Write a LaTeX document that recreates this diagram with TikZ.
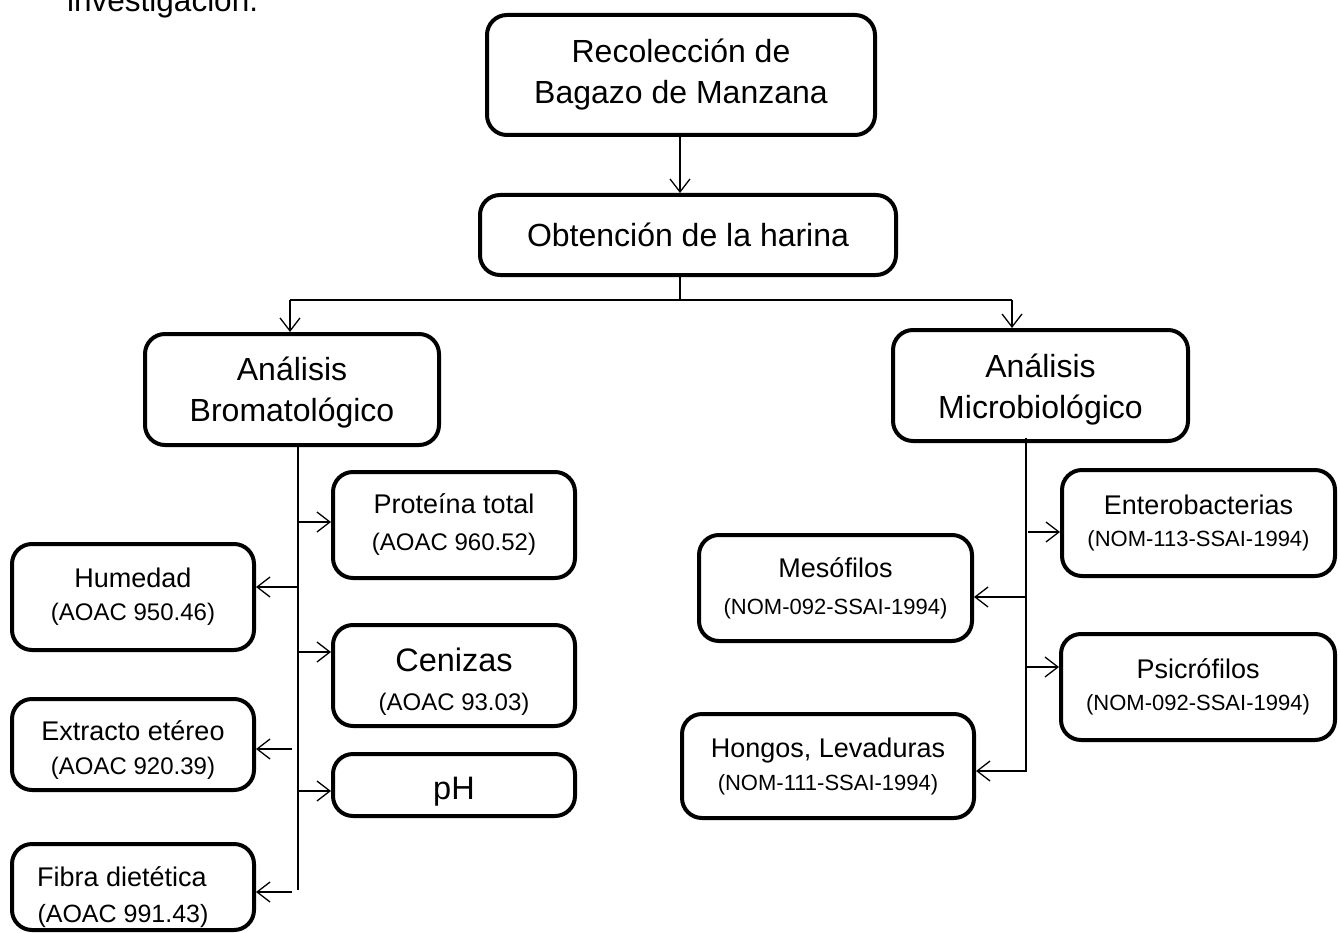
\documentclass[tikz,border=0pt]{standalone}
\usepackage{fontspec}
\setmainfont{Liberation Sans}
\usetikzlibrary{arrows.meta}
\newcommand{\fsz}[2]{\fontsize{#1}{#2}\selectfont}
\newcommand{\up}[1]{\rule{0pt}{#1}}
\begin{document}
\begin{tikzpicture}[x=1pt,y=-1pt,
  box/.style={draw, line width=4pt, rounded corners=20pt, inner sep=0pt, align=center},
  conn/.style={line width=1.3pt},
  arr/.style={conn, -{Straight Barb[length=13pt,width=20pt]}}]
\useasboundingbox (0,0) rectangle (1340,933);
\clip (0,0) rectangle (1340,933);
\node[anchor=base west, inner sep=0pt, font=\fsz{31.5}{38}] (intro) at (67,12) {investigación.};
% main chain
\node[box, minimum width=388pt, minimum height=120pt, font=\fsz{32}{41}] (rec) at (681,75) {Recolección de\\Bagazo de Manzana};
\node[box, minimum width=416pt, minimum height=80pt, font=\fsz{32}{41}] (obt) at (688,235) {Obtención de la harina};
\node[box, minimum width=294pt, minimum height=111pt, font=\fsz{32}{41}] (bro) at (292,389.5) {\up{30pt}Análisis\\Bromatológico};
\node[box, minimum width=295pt, minimum height=111pt, font=\fsz{32}{41}] (mic) at (1040.5,385.5) {\up{32pt}Análisis\\Microbiológico};
% left items
\node[box, minimum width=242pt, minimum height=106pt, font=\fsz{27}{37}] (pro) at (454,525) {Proteína total\\{\fsz{24}{24}(AOAC 960.52)}};
\node[box, minimum width=242pt, minimum height=106pt, font=\fsz{27}{33}] (hum) at (133,597) {Humedad\\{\fsz{24}{24}(AOAC 950.46)}};
\node[box, minimum width=242pt, minimum height=101pt, font=\fsz{32.5}{39}] (cen) at (454,675.5) {\up{36pt}Cenizas\\{\fsz{24}{24}(AOAC 93.03)}};
\node[box, minimum width=242pt, minimum height=91pt, font=\fsz{27}{34}] (ext) at (133,744.5) {\up{30pt}Extracto etéreo\\{\fsz{24}{24}(AOAC 920.39)}};
\node[box, minimum width=242pt, minimum height=62pt, font=\fsz{32.5}{39}] (ph) at (454,785) {\up{36pt}pH};
\node[box, minimum width=242pt, minimum height=86pt, font=\fsz{27}{36}] (fib) at (133,887) {\up{40pt}Fibra dietética\hspace*{22pt}\\{\fsz{25}{25}(AOAC 991.43)}\hspace*{20pt}};
% right items
\node[box, minimum width=273pt, minimum height=106pt, font=\fsz{27}{32}] (ent) at (1198.5,523) {Enterobacterias\\{\fsz{22}{22}(NOM-113-SSAI-1994)}};
\node[box, minimum width=273pt, minimum height=106pt, font=\fsz{27}{37}] (mes) at (835.5,588) {Mesófilos\\{\fsz{22}{22}(NOM-092-SSAI-1994)}};
\node[box, minimum width=274pt, minimum height=106pt, font=\fsz{27}{32}] (psi) at (1198,687) {Psicrófilos\\{\fsz{22}{22}(NOM-092-SSAI-1994)}};
\node[box, minimum width=292pt, minimum height=104pt, font=\fsz{27}{33}] (hon) at (828,766) {Hongos, Levaduras\\{\fsz{22}{22}(NOM-111-SSAI-1994)}};
% connectors top
\coordinate (ax) at (680,0);
\draw[arr] (ax |- rec.south) -- (ax |- obt.north);
\coordinate (split) at (680,300);
\coordinate (hl) at (290,300);
\coordinate (hr) at (1012,300);
\draw[conn] (split |- obt.south) -- (split);
\draw[conn] (hl) -- (hr);
\draw[arr] (hl) -- (hl |- bro.north);
\draw[arr] (hr) -- (hr |- mic.north);
% left trunk
\coordinate (bt) at (298,890);
\draw[conn] (bt |- bro.south) -- (bt);
\coordinate (b1) at (298,522);
\coordinate (b2) at (298,587);
\coordinate (b3) at (298,652);
\coordinate (b4) at (292,749);
\coordinate (b5) at (298,791);
\coordinate (b6) at (292,892);
\draw[arr] (b1) -- (b1 -| pro.west);
\draw[arr] (b2) -- (b2 -| hum.east);
\draw[arr] (b3) -- (b3 -| cen.west);
\draw[arr] (b4) -- (b4 -| ext.east);
\draw[arr] (b5) -- (b5 -| ph.west);
\draw[arr] (b6) -- (b6 -| fib.east);
% right trunk
\coordinate (mt) at (1026,772);
\coordinate (mtop) at (1026,438);
\draw[conn] (mtop) -- (mt);
\coordinate (m1) at (1028,532);
\coordinate (m2) at (1026,597);
\coordinate (m3) at (1026,667);
\coordinate (m4) at (1026,771);
\draw[arr] (m1) -- (m1 -| ent.west);
\draw[arr] (m2) -- (m2 -| mes.east);
\draw[arr] (m3) -- (m3 -| psi.west);
\draw[arr] (m4) -- (m4 -| hon.east);
\end{tikzpicture}
\end{document}
